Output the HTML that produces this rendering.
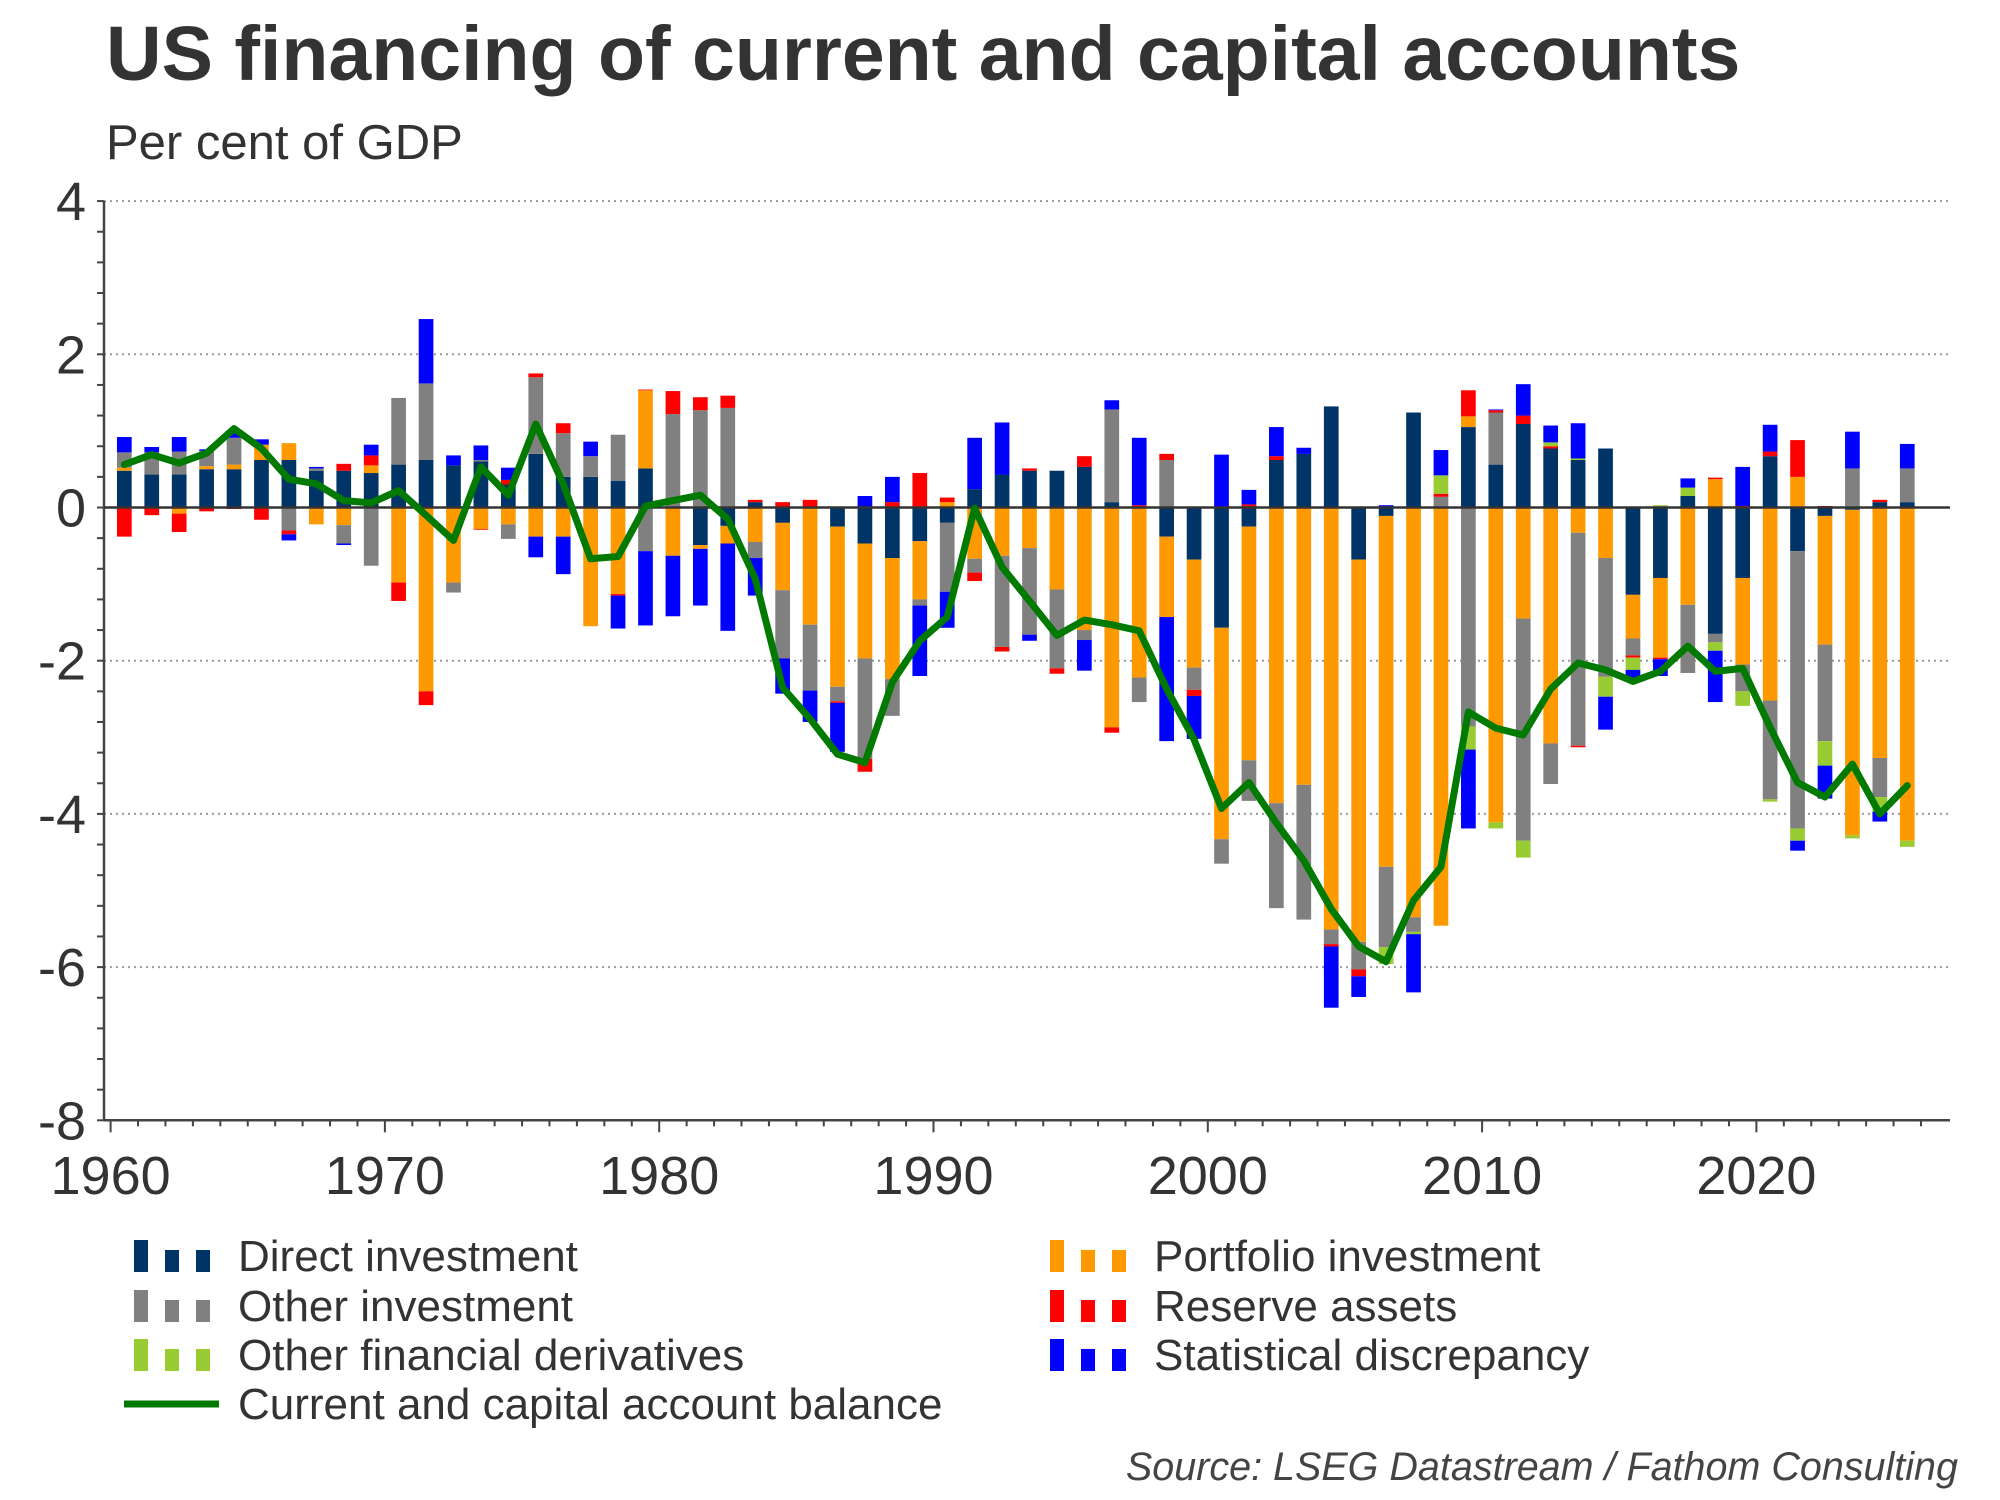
<!DOCTYPE html>
<html><head><meta charset="utf-8">
<style>
html,body{margin:0;padding:0;background:#fff;}
svg{display:block;font-family:"Liberation Sans",Arial,sans-serif;}
</style></head>
<body>
<svg id="chart" width="2000" height="1500" viewBox="0 0 2000 1500" xmlns="http://www.w3.org/2000/svg">
<text x="106" y="80" font-size="77" font-weight="bold" fill="#333">US financing of current and capital accounts</text>
<text x="106" y="159" font-size="49" fill="#333">Per cent of GDP</text>
<g id="grid"></g>
<g id="bars"></g>
<g id="axes"></g>
<g id="line"></g>
<g id="legend"></g>
<text x="1958" y="1500" dy="-20" text-anchor="end" font-size="39.5" font-style="italic" fill="#444">Source: LSEG Datastream / Fathom Consulting</text>
</svg>
<script>
const years = Array.from({length:66},(_,i)=>1960+i);
const direct = [0.48,0.43,0.43,0.5,0.5,0.62,0.62,0.48,0.48,0.45,0.56,0.62,0.55,0.6,0.3,0.7,0.4,0.4,0.35,0.51,0,-0.49,-0.24,0.07,-0.2,0,-0.25,-0.47,-0.66,-0.44,-0.2,0.24,0.43,0.48,0.48,0.53,0.07,0,-0.38,-0.68,-1.57,-0.25,0.62,0.7,1.32,-0.68,-0.11,1.24,0,1.05,0.56,1.09,0.77,0.62,0.77,-1.14,-0.92,0.15,-1.65,-0.92,0.67,-0.57,-0.11,-0.03,0.07,0.07];
const portfolio = [0.04,0,-0.08,0.04,0.06,0.2,0.22,-0.22,-0.23,0.1,-0.98,-2.4,-0.98,-0.28,-0.22,-0.38,-0.38,-1.55,-1.13,1.02,-0.63,-0.05,-0.23,-0.45,-0.88,-1.53,-2.09,-1.5,-1.58,-0.76,0.07,-0.67,-0.63,-0.53,-1.07,-1.6,-2.87,-2.22,-1.05,-1.41,-2.76,-3.05,-3.86,-3.62,-5.51,-4.99,-4.58,-5.35,-5.46,0.14,-4.11,-1.45,-3.08,-0.33,-0.66,-0.57,-1.04,-1.27,0.37,-1.13,-2.52,0.4,-1.68,-4.25,-3.27,-4.35];
const other = [0.2,0.29,0.3,0.2,0.35,0,-0.3,0.03,-0.24,-0.76,0.87,1.0,-0.13,0.02,-0.19,1.0,0.57,0.27,0.6,-0.57,1.22,1.27,1.3,-0.21,-0.89,-0.86,-0.19,-1.31,-0.48,-0.08,-0.9,-0.18,-1.19,-1.13,-1.03,-0.13,1.21,-0.32,0.62,-0.29,-0.32,-0.53,-1.37,-1.76,-0.19,-0.36,-1.05,-0.19,0.14,-2.86,0.68,-2.9,-0.53,-2.78,-1.55,-0.22,0,-0.89,-0.11,-0.35,-1.29,-3.62,-1.26,0.51,-0.51,0.44];
const reserve = [-0.38,-0.1,-0.24,-0.05,-0.02,-0.16,-0.05,0,0.09,0.13,-0.24,-0.18,0,-0.01,0.06,0.05,0.13,0,-0.02,0.01,0.3,0.17,0.16,0.03,0.07,0.1,-0.02,-0.17,0.07,0.45,0.06,-0.11,-0.06,0.03,-0.07,0.14,-0.07,0.03,0.08,-0.08,0,0.04,0.05,0,-0.03,-0.09,0,0,0.04,0.34,0.03,0.11,0.03,-0.02,0,-0.03,-0.02,0,0.02,0.02,0.06,0.48,0.02,0,0.03,0];
const derivatives = [0,0,0,0,0,0,0,0,0,0,0,0,0,0,0,0,0,0,0,0,0,0,0,0,0,0,0,0,0,0,0,0,0,0,0,0,0,0,0,0,0,0,0,0,0,0,-0.22,-0.03,0.24,-0.3,-0.08,-0.22,0.05,0.02,-0.26,-0.16,0.03,0.11,-0.11,-0.19,-0.03,-0.16,-0.32,-0.04,-0.19,-0.08];
const discrepancy = [0.2,0.07,0.19,0.02,0.1,0.07,-0.08,0.02,-0.02,0.14,0,0.84,0.13,0.19,0.16,-0.27,-0.49,0.19,-0.43,-0.97,-0.79,-0.74,-1.14,-0.49,-0.46,-0.41,-0.64,0.15,0.33,-0.92,-0.47,0.67,0.68,-0.08,0,-0.4,0.12,0.88,-1.62,-0.56,0.69,0.19,0.38,0.08,-0.8,-0.27,0.03,-0.76,0.33,-1.03,0.01,0.41,0.22,0.46,-0.43,-0.1,-0.22,0.12,-0.67,0.51,0.35,-0.13,-0.43,0.48,-0.13,0.32];
const balance = [0.56,0.69,0.58,0.71,1.03,0.77,0.37,0.31,0.09,0.06,0.22,-0.1,-0.43,0.53,0.16,1.09,0.31,-0.67,-0.64,0.02,0.09,0.16,-0.15,-0.93,-2.35,-2.76,-3.22,-3.33,-2.28,-1.74,-1.43,-0.01,-0.78,-1.22,-1.67,-1.47,-1.53,-1.61,-2.37,-3.03,-3.93,-3.59,-4.12,-4.61,-5.24,-5.73,-5.93,-5.13,-4.69,-2.67,-2.88,-2.97,-2.37,-2.03,-2.12,-2.27,-2.14,-1.81,-2.14,-2.1,-2.87,-3.59,-3.78,-3.35,-4.0,-3.63];
const yTicks = [4,2,0,-2,-4,-6,-8];
const xTickLabels = [1960,1970,1980,1990,2000,2010,2020];

const NS="http://www.w3.org/2000/svg";
const X0=110.6, XS=27.43, Y0=507.5, YS=76.6;
function xs(y){return X0+XS*(y-1960);}
function ys(v){return Y0-YS*v;}
function mk(tag,attrs,parent){const e=document.createElementNS(NS,tag);for(const k in attrs)e.setAttribute(k,attrs[k]);parent.appendChild(e);return e;}

const grid=document.getElementById('grid');
const axes=document.getElementById('axes');
const AXL=104, AXR=1950;
yTicks.forEach(t=>{
  if(t!==0&&t!==-8){
    const g=mk('line',{x1:AXL,x2:AXR,y1:ys(t),y2:ys(t),stroke:'#999','stroke-width':2,'stroke-dasharray':'2,4'},grid);
    
    
  }
  const lb=mk('text',{x:86,y:ys(t)+19,'text-anchor':'end','font-size':54,fill:'#333'},axes);
  
  
  lb.textContent=t;
});
for(let v=4;v>=-8.001;v-=0.4){
  const tk=mk('line',{x1:AXL-7,x2:AXL,y1:ys(v),y2:ys(v),stroke:'#444','stroke-width':2},axes);
  
  
}
const ya=mk('line',{x1:AXL,x2:AXL,y1:ys(4),y2:ys(-8),stroke:'#444','stroke-width':2.5},axes);


const xa=mk('line',{x1:AXL,x2:AXR,y1:ys(-8),y2:ys(-8),stroke:'#444','stroke-width':2.5},axes);


for(let y=1960;y<=2026;y++){
  const major=(y%10===0);
  const tk=mk('line',{x1:xs(y),x2:xs(y),y1:ys(-8),y2:ys(-8)+(major?12:6),stroke:'#444','stroke-width':2},axes);
  
  
}
xTickLabels.forEach(y=>{
  const lb=mk('text',{x:xs(y),y:1194,'text-anchor':'middle','font-size':54,fill:'#333'},axes);
  
  
  lb.textContent=y;
});

const bars=document.getElementById('bars');
const series=[[direct,'#003366','direct'],[portfolio,'#FF9900','portfolio'],[other,'#808080','other'],[reserve,'#FF0000','reserve'],[derivatives,'#99CC33','derivatives'],[discrepancy,'#0000FF','discrepancy']];
const BW=14.7;
years.forEach((yr,i)=>{
  let pos=0,neg=0;
  const cx=xs(yr+0.5);
  series.forEach(([arr,col,nm])=>{
    const v=arr[i]; if(!v) return;
    let y1,y2;
    if(v>0){y1=ys(pos+v);y2=ys(pos);pos+=v;}else{y1=ys(neg);y2=ys(neg+v);neg+=v;}
    const r=mk('rect',{x:cx-BW/2,y:y1,width:BW,height:Math.max(0.5,y2-y1),fill:col},bars);
    
    
  });
});
const zl=mk('line',{x1:AXL,x2:AXR,y1:ys(0),y2:ys(0),stroke:'#333','stroke-width':2.5},axes);



const lineG=document.getElementById('line');
const pts=years.map((yr,i)=>xs(yr+0.5).toFixed(1)+','+ys(balance[i]).toFixed(1)).join(' ');
const pl=mk('polyline',{points:pts,fill:'none',stroke:'#007A00','stroke-width':7,'stroke-linejoin':'round','stroke-linecap':'round'},lineG);



const legend=document.getElementById('legend');
const items=[['Direct investment','#003366',134,1256],['Other investment','#808080',134,1306],['Other financial derivatives','#99CC33',134,1355],['Portfolio investment','#FF9900',1050,1256],['Reserve assets','#FF0000',1050,1306],['Statistical discrepancy','#0000FF',1050,1355]];
items.forEach(([label,col,x,y])=>{
  const g=mk('g',{},legend);
  
  
  mk('rect',{x:x,y:y-16,width:14,height:32,fill:col},g);
  mk('rect',{x:x+31,y:y-6,width:14,height:22,fill:col},g);
  mk('rect',{x:x+62,y:y-6,width:14,height:22,fill:col},g);
  const t=mk('text',{x:x+104,y:y+15,'font-size':44,fill:'#333'},g);
  t.textContent=label;
});
const lg=mk('g',{},legend);


mk('line',{x1:124,x2:219,y1:1404,y2:1404,stroke:'#007A00','stroke-width':7},lg);
const lt=mk('text',{x:238,y:1419,'font-size':44,fill:'#333'},lg);
lt.textContent='Current and capital account balance';
</script>
</body></html>
